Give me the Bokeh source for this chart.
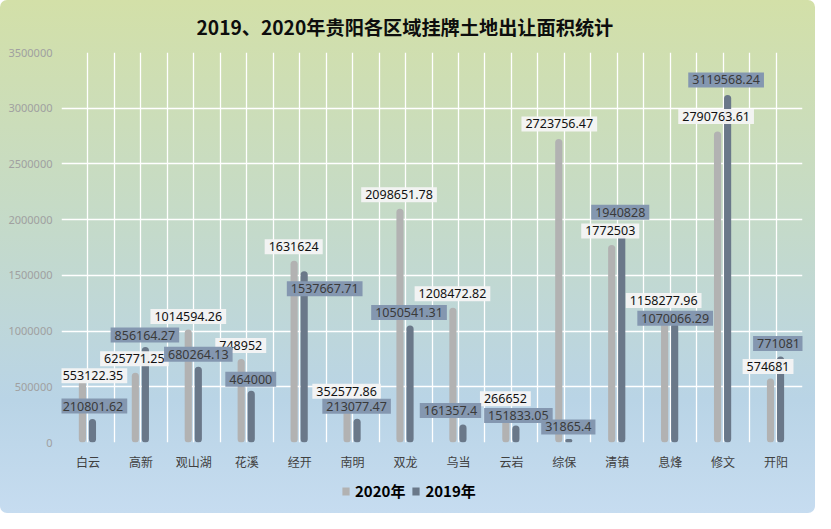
from bokeh.plotting import figure
from bokeh.layouts import column
from bokeh.models import (ColumnDataSource, Range1d, FixedTicker, NumeralTickFormatter,
                          Legend, LegendItem)
from bokeh.core.properties import value
from bokeh.embed import file_html
from bokeh.resources import INLINE

# ---------------- data ----------------
categories = ["白云", "高新", "观山湖", "花溪", "经开", "南明", "双龙", "乌当",
              "云岩", "综保", "清镇", "息烽", "修文", "开阳"]
area_2020 = [553122.35, 625771.25, 1014594.26, 748952, 1631624, 352577.86, 2098651.78,
             1208472.82, 266652, 2723756.47, 1772503, 1158277.96, 2790763.61, 574681]
area_2019 = [210801.62, 856164.27, 680264.13, 464000, 1537667.71, 213077.47, 1050541.31,
             161357.4, 151833.05, 31865.4, 1940828, 1070066.29, 3119568.24, 771081]
y_ticks = [0, 500000, 1000000, 1500000, 2000000, 2500000, 3000000, 3500000]
series_names = ["2020年", "2019年"]
title_text = "2019、2020年贵阳各区域挂牌土地出让面积统计"

# label offsets in screen pixels (layout only)
off20_x = [5, -6.5, -5.5, -6, -6, -6, -6.5, -6, -6, -5, -7, -6.5, -7, -8]
off20_y = [-5, -14, -13, -13.5, -14, -12, -14, -14, -14, -15, -14, -13, -15, -12]
off19_x = [5, 4, 4.5, 4, 25, 4, 3.5, -8, 7, 4, 3, 5, 3, 2.5]
off19_y = [-13, -12, -12.5, -11.5, 17.5, -12.5, -13, -14, -10, -12, -14, -5, -15, -13]

C20 = "#b2b2b2"
C19 = "#6a7889"


def fmt(v):
    s = f"{v:.2f}"
    return s.rstrip("0").rstrip(".")


n = len(categories)
centers = [i + 0.5 for i in range(n)]
src = ColumnDataSource(dict(
    x=centers,
    x20=[c - 0.105 for c in centers],
    x19=[c + 0.085 for c in centers],
    v20=area_2020, v19=area_2019,
    t20=[fmt(v) for v in area_2020], t19=[fmt(v) for v in area_2019],
    ox20=off20_x, oy20=off20_y, ox19=off19_x, oy19=off19_y,
))

# ---------------- main chart ----------------
p = figure(width=815, height=478, output_backend="svg", toolbar_location=None,
           x_range=Range1d(0, n), y_range=Range1d(0, 3500000),
           min_border_left=61, min_border_right=13, min_border_top=50, min_border_bottom=36)
p.background_fill_alpha = 0
p.border_fill_alpha = 0
p.outline_line_color = None

# title
p.title.text = title_text
p.title.align = "left"
p.title.offset = 135
p.title.vertical_align = "middle"
p.title.standoff = 22
p.title.text_font = "Noto Sans CJK SC"
p.title.text_font_style = "bold"
p.title.text_font_size = "19.2px"
p.title.text_color = "#0d0d0d"

# grids
p.ygrid.ticker = FixedTicker(ticks=y_ticks)
p.xgrid.ticker = FixedTicker(ticks=[k / 2 for k in range(2 * n + 1)])
for g in (p.xgrid, p.ygrid):
    g.grid_line_color = "#ffffff"
    g.grid_line_width = 1.3
    g.grid_line_alpha = 1

# axes
p.yaxis.ticker = FixedTicker(ticks=y_ticks)
p.yaxis.formatter = NumeralTickFormatter(format="0")
p.yaxis.major_label_text_color = "#a0a0a0"
p.yaxis.major_label_text_font = "Noto Sans"
p.yaxis.major_label_text_font_size = "11px"
p.yaxis.major_label_standoff = 9

p.xaxis.ticker = FixedTicker(ticks=centers)
p.xaxis.major_label_overrides = {c: name for c, name in zip(centers, categories)}
p.xaxis.major_label_text_color = "#404040"
p.xaxis.major_label_text_font = "Noto Sans CJK SC"
p.xaxis.major_label_text_font_size = "12px"
p.xaxis.major_label_standoff = 10
for ax in (p.xaxis, p.yaxis):
    ax.axis_line_color = None
    ax.major_tick_line_color = None
    ax.minor_tick_line_color = None
    ax.major_tick_out = 0
    ax.major_tick_in = 0
    ax.minor_tick_out = 0

# bars
p.vbar(x="x20", top="v20", width=0.135, source=src, fill_color=C20,
       line_color=None, border_radius=4)
p.vbar(x="x19", top="v19", width=0.135, source=src, fill_color=C19,
       line_color=None, border_radius=4)

# data labels
p.text(x="x", y="v20", text="t20", x_offset="ox20", y_offset="oy20", source=src,
       text_align="center", text_baseline="middle", text_font=value("Noto Sans"),
       text_font_size="12.5px", text_color="#111111",
       background_fill_color="#f4f4f4", background_fill_alpha=0.95,
       padding=(4, 3))
p.text(x="x", y="v19", text="t19", x_offset="ox19", y_offset="oy19", source=src,
       text_align="center", text_baseline="middle", text_font=value("Noto Sans"),
       text_font_size="12.5px", text_color="#3a3a3a",
       background_fill_color="#8497b0", background_fill_alpha=1,
       padding=(4, 3))

# ---------------- legend strip (frames align with the chart above) ----------------
# ranges of this strip lie beyond all the data, so only the legend swatches show
q = figure(width=815, height=35, output_backend="svg", toolbar_location=None,
           x_range=Range1d(n + 10, n + 11), y_range=Range1d(4000000, 5000000),
           x_axis_location=None, y_axis_location=None,
           min_border_left=0, min_border_right=0, min_border_top=0, min_border_bottom=0)
q.background_fill_alpha = 0
q.border_fill_alpha = 0
q.outline_line_color = None
q.grid.visible = False
k20 = q.vbar(x="x20", top="v20", width=0.135, source=src, fill_color=C20, line_color=None)
k19 = q.vbar(x="x19", top="v19", width=0.135, source=src, fill_color=C19, line_color=None)
legend = Legend(items=[LegendItem(label=series_names[0], renderers=[k20]),
                       LegendItem(label=series_names[1], renderers=[k19])],
                location=(280, 12), orientation="horizontal",
                glyph_width=9, glyph_height=10, label_standoff=5, spacing=6,
                padding=0, margin=0, border_line_color=None,
                background_fill_alpha=0,
                label_text_font="Noto Sans CJK SC", label_text_font_style="bold",
                label_text_font_size="15px", label_text_color="#000000")
q.add_layout(legend)

page = column(p, q, spacing=0)
page.styles = {
    "background": "linear-gradient(180deg, #d3e0a8 0%, #c6dbc6 40%, #b9d4e6 78%, #c6dcf0 100%)",
    "border-radius": "7px",
}

open("out.html", "w").write(file_html(page, INLINE))
